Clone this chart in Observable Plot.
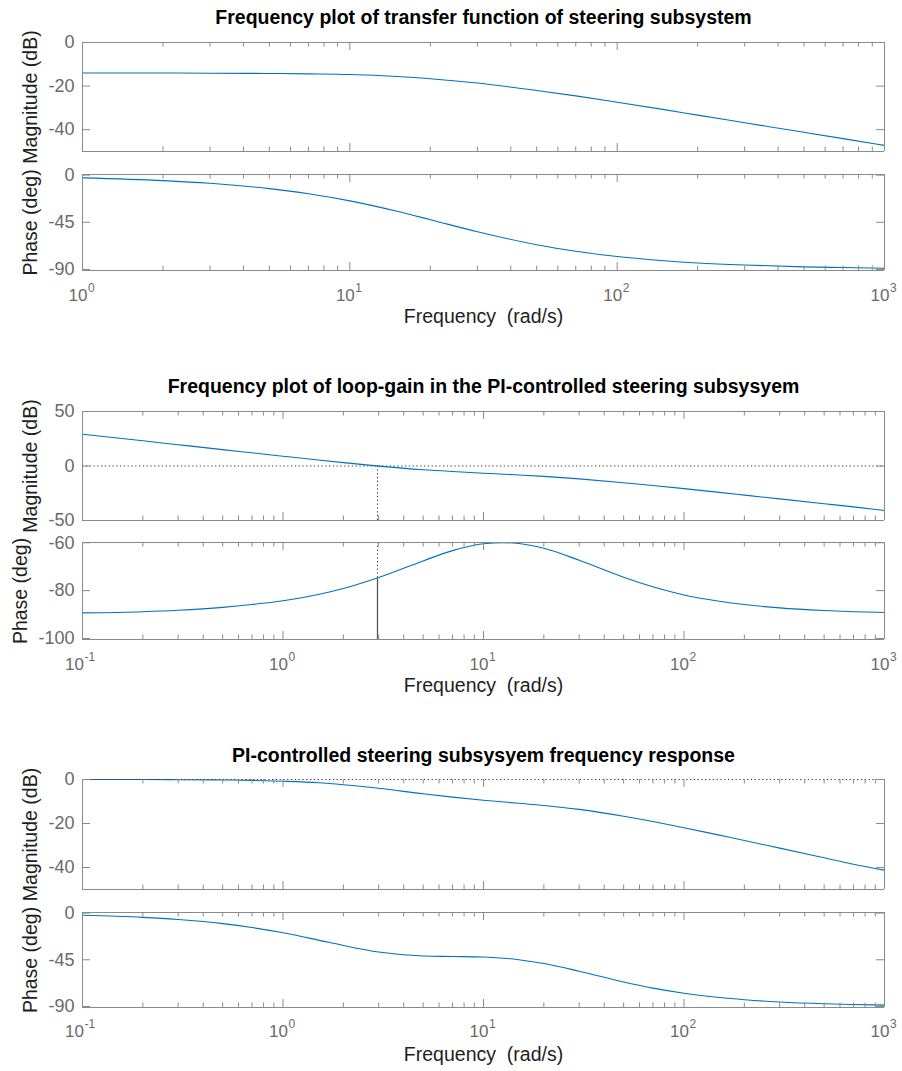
<!DOCTYPE html>
<html>
<head>
<meta charset="utf-8">
<script src="https://cdn.jsdelivr.net/npm/d3@7"></script>
<script src="https://cdn.jsdelivr.net/npm/@observablehq/plot@0.6"></script>
<style>
  html, body { margin: 0; padding: 0; background: #fff; }
  #chart { position: relative; width: 902px; height: 1071px; overflow: hidden; }
</style>
</head>
<body>
<div id="chart"></div>
<script>
// ---- Text ----
const titles = [
  "Frequency plot of transfer function of steering subsystem",
  "Frequency plot of loop-gain in the PI-controlled steering subsysyem",
  "PI-controlled steering subsysyem frequency response"
];
const xLabel = "Frequency  (rad/s)";
const magLabel = "Magnitude (dB)";
const phaseLabel = "Phase (deg)";

// ---- Steering subsystem (open loop) ----
const plantFreq  = [1, 2, 3, 5, 7, 10, 15, 20, 30, 50, 70, 100, 150, 200, 300, 500, 700, 1000];
const plantMag   = [-14.0, -14.0, -14.1, -14.2, -14.4, -14.7, -15.6, -16.6, -18.6, -22.0, -24.5, -27.4, -30.8, -33.3, -36.8, -41.2, -44.1, -47.2];
const plantPhase = [-2.6, -5.2, -7.8, -12.9, -17.8, -24.6, -34.5, -42.5, -54.0, -66.4, -72.7, -77.7, -81.7, -83.8, -85.8, -87.5, -88.2, -88.8];

// ---- Loop gain with PI controller ----
const loopFreq  = [0.1, 0.2, 0.3, 0.5, 0.7, 1, 1.5, 2, 3, 5, 7, 10, 12.6, 15, 20, 30, 50, 70, 100, 150, 200, 300, 500, 700, 1000];
const loopMag   = [29.2, 23.1, 19.5, 15.0, 12.1, 9.0, 5.5, 3.1, -0.1, -3.4, -5.0, -6.6, -7.5, -8.2, -9.5, -11.8, -15.3, -17.9, -20.8, -24.2, -26.7, -30.2, -34.6, -37.5, -40.8];
const loopPhase = [-89.3, -88.8, -88.2, -87.0, -85.8, -84.2, -81.6, -79.1, -74.5, -67.6, -63.3, -60.4, -60.0, -60.3, -62.3, -67.3, -74.4, -78.4, -81.8, -84.4, -85.8, -87.2, -88.3, -88.8, -89.1];
const crossoverFreq  = 2.96;
const crossoverPhase = -74.7;

// ---- Closed loop ----
const closedFreq  = [0.1, 0.2, 0.3, 0.5, 0.7, 1, 1.5, 2, 3, 5, 7, 10, 15, 20, 30, 50, 70, 100, 150, 200, 300, 500, 700, 1000];
const closedMag   = [0.0, 0.0, -0.1, -0.2, -0.4, -0.8, -1.5, -2.4, -4.0, -6.5, -8.0, -9.4, -10.8, -11.8, -13.6, -16.7, -19.1, -21.9, -25.3, -27.7, -31.2, -35.6, -38.5, -41.2];
const closedPhase = [-2.1, -4.1, -6.2, -10.1, -13.9, -19.0, -26.0, -31.2, -37.5, -41.3, -41.8, -42.3, -44.9, -48.6, -56.0, -66.4, -72.3, -77.2, -81.4, -83.5, -85.7, -87.4, -88.1, -88.7];

// ---- Axis ticks ----
const magTicksA   = [0, -20, -40];
const phaseTicksA = [0, -45, -90];
const magTicksB   = [50, 0, -50];
const phaseTicksB = [-60, -80, -100];
const decadesA = [1, 10, 100, 1000];
const decadesB = [0.1, 1, 10, 100, 1000];
const exponentsA = ["0", "1", "2", "3"];
const exponentsB = ["-1", "0", "1", "2", "3"];
const minorSteps = [2, 3, 4, 5, 6, 7, 8, 9];

// ---- Styling ----
const W = 902, ML = 82, MR = 18, M = 60;
const FONT = "'Liberation Sans', Arial, Helvetica, sans-serif";
const frameColor = "#8a8a8a";
const tickText = "#6a6a6a";
const labelText = "#1e1e1e";
const lineColor = "#0072bd";
const refColor = "#3c3c3c";
const dots = "1.3,2.5";

const chart = document.getElementById("chart");

function subplot(cfg) {
  const {frameTop, frameHeight, xDomain, yDomain, yTicks, freq, values, yLabel, yLabelX,
         decades, exponents, title, titleY, tickLabelY, xLabelY, refs = [], dottedTop = false} = cfg;
  const [xMin, xMax] = xDomain;
  const [yMin, yMax] = yDomain;
  const frameBottom = frameTop + frameHeight;
  const majors = decades;
  const minors = decades.slice(0, -1).flatMap(d => minorSteps.map(m => d * m));

  const marks = [
    ...refs,
    Plot.line(freq, {x: freq, y: values, stroke: lineColor, strokeWidth: 1.1, curve: "monotone-x"}),
    // box
    Plot.ruleX([xMin, xMax], {x: d => d, stroke: frameColor}),
    Plot.ruleY([yMin], {y: d => d, stroke: frameColor}),
    dottedTop
      ? Plot.ruleY([yMax], {y: d => d, stroke: refColor, strokeDasharray: dots})
      : Plot.ruleY([yMax], {y: d => d, stroke: frameColor}),
    // inward ticks along top and bottom
    Plot.ruleX(majors, {x: d => d, y1: yMax, y2: yMax, insetBottom: -8, stroke: frameColor}),
    Plot.ruleX(minors, {x: d => d, y1: yMax, y2: yMax, insetBottom: -4.5, stroke: frameColor}),
    Plot.ruleX(majors, {x: d => d, y1: yMin, y2: yMin, insetTop: -8, stroke: frameColor}),
    Plot.ruleX(minors, {x: d => d, y1: yMin, y2: yMin, insetTop: -4.5, stroke: frameColor}),
    // inward ticks along left and right
    Plot.ruleY(yTicks, {y: d => d, x1: xMin, x2: xMin, insetRight: -8, stroke: frameColor}),
    Plot.ruleY(yTicks, {y: d => d, x1: xMax, x2: xMax, insetLeft: -8, stroke: frameColor}),
    // y tick labels
    Plot.text(yTicks, {y: d => d, text: d => String(d), frameAnchor: "left", textAnchor: "end",
                       lineAnchor: "middle", dx: -8, fontSize: 18, fill: tickText}),
    // y axis title, centred on the panel
    Plot.text([yLabel], {text: d => d, frameAnchor: "left", rotate: -90, textAnchor: "middle",
                         lineAnchor: "middle", dx: yLabelX - ML, fontSize: 19.5, fill: labelText})
  ];

  if (title) {
    marks.push(Plot.text([title], {text: d => d, frameAnchor: "top", textAnchor: "middle", lineAnchor: "middle",
      dy: titleY - frameTop, fontSize: 19.5, fontWeight: "bold", fill: "#000"}));
  }

  if (exponents) {
    const labels = decades.map((d, i) => ({f: d, e: exponents[i]}));
    const pos = labels.filter(d => !d.e.startsWith("-"));
    const neg = labels.filter(d => d.e.startsWith("-"));
    const dyBase = tickLabelY - frameBottom;
    for (const [set, shift] of [[pos, 5], [neg, 1.5]]) {
      if (!set.length) continue;
      marks.push(
        Plot.text(set, {x: "f", text: () => "10", frameAnchor: "bottom", lineAnchor: "middle",
                        textAnchor: "end", dx: shift, dy: dyBase, fontSize: 17, fill: tickText}),
        Plot.text(set, {x: "f", text: "e", frameAnchor: "bottom", lineAnchor: "middle",
                        textAnchor: "start", dx: shift + 0.5, dy: dyBase - 7, fontSize: 12, fill: tickText})
      );
    }
    marks.push(Plot.text([xLabel], {text: d => d, frameAnchor: "bottom", textAnchor: "middle", lineAnchor: "middle",
      dy: xLabelY - frameBottom, fontSize: 19.5, fill: labelText}));
  }

  const svg = Plot.plot({
    width: W,
    height: frameHeight + 2 * M,
    marginLeft: ML, marginRight: MR, marginTop: M, marginBottom: M,
    x: {type: "log", domain: xDomain, axis: null},
    y: {domain: yDomain, axis: null},
    style: {fontFamily: FONT, background: "none", overflow: "visible"},
    marks
  });
  svg.style.position = "absolute";
  svg.style.left = "0px";
  svg.style.top = (frameTop - M) + "px";
  svg.style.maxWidth = "none";
  chart.appendChild(svg);
}

// ---- Panel 1: steering subsystem ----
subplot({frameTop: 42, frameHeight: 109, xDomain: [1, 1000], yDomain: [-50, 0], yTicks: magTicksA,
  freq: plantFreq, values: plantMag, yLabel: magLabel, yLabelX: 30, decades: decadesA,
  title: titles[0], titleY: 17});
subplot({frameTop: 174, frameHeight: 96, xDomain: [1, 1000], yDomain: [-91, 0.6], yTicks: phaseTicksA,
  freq: plantFreq, values: plantPhase, yLabel: phaseLabel, yLabelX: 30, decades: decadesA,
  exponents: exponentsA, tickLabelY: 295, xLabelY: 316});

// ---- Panel 2: loop gain with crossover markers ----
subplot({frameTop: 411, frameHeight: 109, xDomain: [0.1, 1000], yDomain: [-50, 50], yTicks: magTicksB,
  freq: loopFreq, values: loopMag, yLabel: magLabel, yLabelX: 30, decades: decadesB,
  title: titles[1], titleY: 386,
  refs: [
    Plot.ruleY([0], {y: d => d, stroke: refColor, strokeDasharray: dots}),
    Plot.ruleX([crossoverFreq], {x: d => d, y1: 0, y2: -50, stroke: refColor, strokeDasharray: dots})
  ]});
subplot({frameTop: 542, frameHeight: 97, xDomain: [0.1, 1000], yDomain: [-100.4, -59.9], yTicks: phaseTicksB,
  freq: loopFreq, values: loopPhase, yLabel: phaseLabel, yLabelX: 20, decades: decadesB,
  exponents: exponentsB, tickLabelY: 664, xLabelY: 685,
  refs: [
    Plot.ruleX([crossoverFreq], {x: d => d, y1: -59.9, y2: crossoverPhase, stroke: refColor, strokeDasharray: dots}),
    Plot.ruleX([crossoverFreq], {x: d => d, y1: crossoverPhase, y2: -100.4, stroke: "#555", strokeWidth: 1.3})
  ]});

// ---- Panel 3: closed loop ----
subplot({frameTop: 779, frameHeight: 110, xDomain: [0.1, 1000], yDomain: [-50, 0], yTicks: magTicksA,
  freq: closedFreq, values: closedMag, yLabel: magLabel, yLabelX: 30, decades: decadesB,
  title: titles[2], titleY: 755, dottedTop: true});
subplot({frameTop: 912, frameHeight: 95, xDomain: [0.1, 1000], yDomain: [-91, 0.6], yTicks: phaseTicksA,
  freq: closedFreq, values: closedPhase, yLabel: phaseLabel, yLabelX: 30, decades: decadesB,
  exponents: exponentsB, tickLabelY: 1031, xLabelY: 1054});
</script>
</body>
</html>
